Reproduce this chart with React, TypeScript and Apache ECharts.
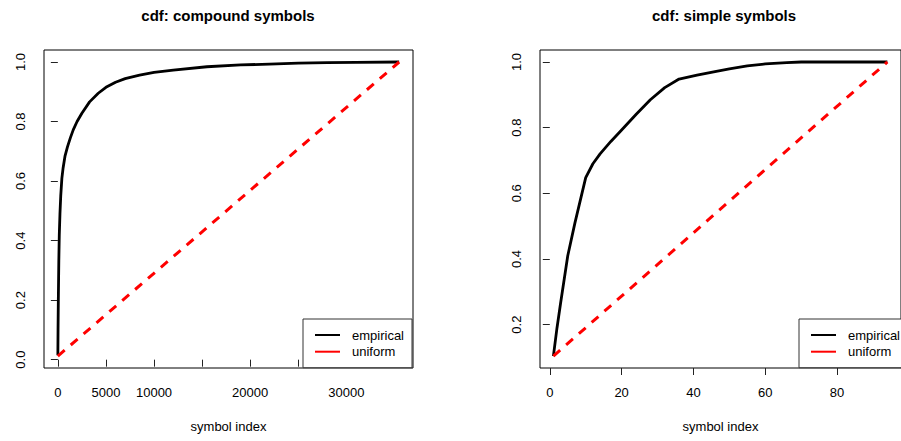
import React, { useEffect, useRef } from "react";
import * as echarts from "echarts";

// ---- data ----
const titles = ["cdf: compound symbols", "cdf: simple symbols"];
const seriesNames = ["empirical", "uniform"];
const xAxisName = "symbol index";

const compoundX = [1, 20, 50, 100, 150, 220, 300, 420, 550, 750, 1000, 1300, 1600, 2000, 2500, 3300, 4200, 5000, 6000, 7000, 8500, 10000, 12000, 15500, 19000, 22000, 25000, 28000, 31000, 35490];
const compoundY = [0.015, 0.1, 0.2, 0.33, 0.42, 0.49, 0.55, 0.61, 0.645, 0.685, 0.715, 0.745, 0.772, 0.8, 0.828, 0.866, 0.895, 0.915, 0.932, 0.944, 0.956, 0.965, 0.973, 0.984, 0.99, 0.993, 0.996, 0.998, 0.999, 1.0];
const compoundUniformX = [1, 35490];
const compoundUniformY = [0.012, 1.0];

const simpleX = [1, 2, 3, 5, 7, 10, 12, 14, 17, 20, 24, 28, 32, 36, 41, 46, 50, 55, 60, 66, 70, 94];
const simpleY = [0.104, 0.19, 0.265, 0.41, 0.51, 0.648, 0.69, 0.72, 0.758, 0.793, 0.84, 0.885, 0.922, 0.948, 0.96, 0.971, 0.979, 0.988, 0.994, 0.998, 1.0, 1.0];
const simpleUniformX = [1, 94];
const simpleUniformY = [0.104, 1.0];

const compoundXTicks = [0, 5000, 10000, 15000, 20000, 25000, 30000, 35000];
const compoundXLabels = [0, 5000, 10000, 20000, 30000];
const compoundYTicks = [0, 0.2, 0.4, 0.6, 0.8, 1.0];
const simpleXTicks = [0, 20, 40, 60, 80];
const simpleYTicks = [0.2, 0.4, 0.6, 0.8, 1.0];

const FONT = "Liberation Sans, Arial, Helvetica, sans-serif";

const pairs = (xs: number[], ys: number[]) => xs.map((x, i) => [x, ys[i]]);

export default function App() {
  const ref = useRef<HTMLDivElement>(null);
  useEffect(() => {
    if (!ref.current) return;
    const chart = echarts.init(ref.current, undefined, { renderer: "svg" });

    const xAxisBase = (idx: number, min: number, max: number, ticks: number[], labels: number[]) => ({
      type: "value",
      gridIndex: idx,
      min,
      max,
      name: xAxisName,
      nameLocation: "middle",
      nameGap: 52,
      nameTextStyle: { fontSize: 13, color: "#000", fontFamily: FONT },
      axisLine: { show: false },
      axisTick: { show: true, length: 7, lineStyle: { color: "#222" }, customValues: ticks },
      axisLabel: {
        show: true,
        margin: 18,
        fontSize: 13,
        color: "#000",
        fontFamily: FONT,
        customValues: labels,
        formatter: (v: number) => String(v),
      },
      splitLine: { show: false },
    });

    const yAxisBase = (idx: number, min: number, max: number, ticks: number[]) => ({
      type: "value",
      gridIndex: idx,
      min,
      max,
      axisLine: { show: false },
      axisTick: { show: true, length: 7, lineStyle: { color: "#222" }, customValues: ticks },
      axisLabel: {
        show: true,
        rotate: 90,
        margin: 17,
        fontSize: 13,
        color: "#000",
        fontFamily: FONT,
        customValues: ticks,
        formatter: (v: number) => v.toFixed(1),
      },
      splitLine: { show: false },
    });

    const legendBase = (left: number) => ({
      left,
      top: 319,
      orient: "vertical",
      data: seriesNames,
      icon: "rect",
      itemWidth: 25,
      itemHeight: 2,
      itemGap: 0.7,
      padding: [8, 8, 8, 12],
      borderColor: "#333",
      borderWidth: 1,
      borderRadius: 0,
      backgroundColor: "#fff",
      selectedMode: false,
      textStyle: { fontSize: 13, color: "#000", fontFamily: FONT, lineHeight: 16, padding: [0, 0, 0, 7] },
    });

    const lineSeries = (name: string, xi: number, data: number[][], color: string, dashed: boolean) => ({
      name,
      type: "line",
      xAxisIndex: xi,
      yAxisIndex: xi,
      data,
      showSymbol: false,
      symbol: "none",
      color,
      lineStyle: { color, width: dashed ? 3 : 2.8, type: dashed ? [9, 8] : "solid", cap: "butt" },
      z: dashed ? 3 : 2,
    });

    chart.setOption({
      animation: false,
      backgroundColor: "#fff",
      title: [
        { text: titles[0], left: 228, top: 8, textAlign: "center", padding: 0, textStyle: { fontSize: 15, fontWeight: "bold", color: "#000", fontFamily: FONT } },
        { text: titles[1], left: 724, top: 8, textAlign: "center", padding: 0, textStyle: { fontSize: 15, fontWeight: "bold", color: "#000", fontFamily: FONT } },
      ],
      grid: [
        { left: 44, top: 50, width: 369, height: 318, show: true, borderColor: "#000", borderWidth: 1, backgroundColor: "transparent", containLabel: false },
        { left: 540, top: 50, width: 369, height: 318, show: true, borderColor: "#000", borderWidth: 1, backgroundColor: "transparent", containLabel: false },
      ],
      xAxis: [
        xAxisBase(0, -1440, 36930, compoundXTicks, compoundXLabels),
        xAxisBase(1, -2.73, 97.8, simpleXTicks, simpleXTicks),
      ],
      yAxis: [
        yAxisBase(0, -0.028, 1.0403, compoundYTicks),
        yAxisBase(1, 0.068, 1.0365, simpleYTicks),
      ],
      legend: [legendBase(303), legendBase(799)],
      series: [
        lineSeries(seriesNames[0], 0, pairs(compoundX, compoundY), "#000", false),
        lineSeries(seriesNames[1], 0, pairs(compoundUniformX, compoundUniformY), "#ff0000", true),
        lineSeries(seriesNames[0], 1, pairs(simpleX, simpleY), "#000", false),
        lineSeries(seriesNames[1], 1, pairs(simpleUniformX, simpleUniformY), "#ff0000", true),
      ],
    });
    return () => chart.dispose();
  }, []);
  return (
    <div
      ref={ref}
      style={{ position: "fixed", left: 0, top: 0, width: 901, height: 441, background: "#fff" }}
    />
  );
}
